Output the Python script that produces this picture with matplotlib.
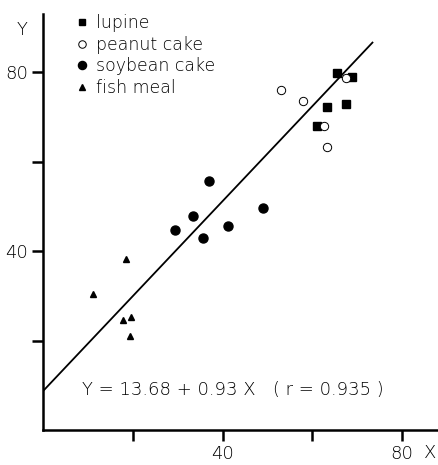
import matplotlib.pyplot as plt

# values (X, Y)
lupine_x = [65.6, 68.8, 63.2, 67.5, 61.1]
lupine_y = [79.8, 78.9, 72.2, 72.9, 68.0]
peanut_x = [53.0, 58.0, 67.6, 62.7, 63.2]
peanut_y = [76.0, 73.5, 78.6, 67.9, 63.2]
soy_x = [37.1, 33.5, 29.5, 35.6, 49.0, 41.2]
soy_y = [55.7, 47.9, 44.8, 43.0, 49.6, 45.6]
fish_x = [18.5, 11.1, 17.8, 19.6, 19.4]
fish_y = [38.3, 30.5, 24.7, 25.2, 21.0]

# fitted line as drawn
line_x = [0, 73.4]
line_y = [8.7, 86.6]

x_ticks = [20, 40, 60, 80]
x_labels = ['', '40', '', '80']
y_ticks = [20, 40, 60, 80]
y_labels = ['', '40', '', '80']

plt.rcParams['font.weight'] = 'light'

fig = plt.figure(figsize=(4.38, 4.65), dpi=100)
ax = fig.add_axes([0.098, 0.075, 0.902, 0.895])

ax.plot(line_x, line_y, color='black', lw=1.3)
ax.plot(lupine_x, lupine_y, 's', color='black', ms=5.5, label='lupine')
ax.plot(peanut_x, peanut_y, 'o', mfc='white', mec='black', mew=0.7, ms=6, label='peanut cake')
ax.plot(soy_x, soy_y, 'o', color='black', ms=6.5, label='soybean cake')
ax.plot(fish_x, fish_y, '^', color='black', ms=5, label='fish meal')

ax.set_xlim(0, 88)
ax.set_ylim(0, 93)
ax.spines['top'].set_visible(False)
ax.spines['right'].set_visible(False)
ax.spines['left'].set_linewidth(1.8)
ax.spines['bottom'].set_linewidth(1.8)
ax.set_xticks(x_ticks)
ax.set_xticklabels(x_labels)
ax.set_yticks(y_ticks)
ax.set_yticklabels(y_labels)
ax.tick_params(axis='both', direction='out', length=8, width=1.8, labelsize=13, pad=3)
ax.tick_params(axis='x', pad=3)

ax.text(8.7, 8.9, 'Y = 13.68 + 0.93 X   ( r = 0.935 )', fontsize=13, va='center')
fig.text(0.05, 0.935, 'Y', fontsize=13, ha='center', va='center')
fig.text(0.982, 0.026, 'X', fontsize=13, ha='center', va='center')

leg = ax.legend(loc='upper left', bbox_to_anchor=(0.06, 1.016), frameon=False, fontsize=12.5,
                handletextpad=0.3, labelspacing=0.2, handlelength=1.0, borderaxespad=0,
                markerscale=0.9)

fig.savefig('out.png', dpi=100)
